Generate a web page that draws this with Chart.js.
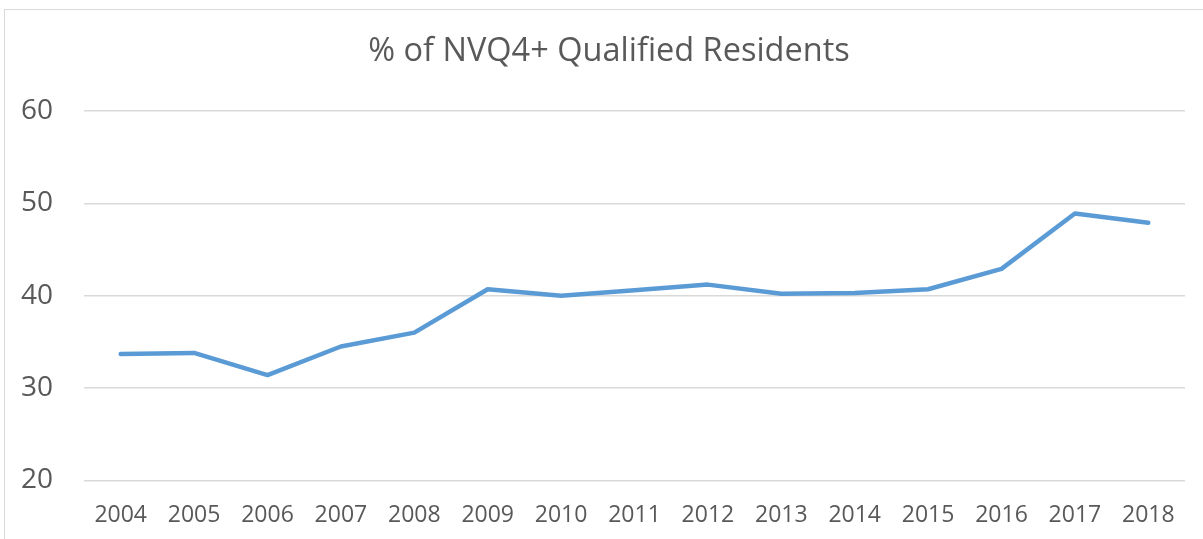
<!DOCTYPE html>
<html>
<head>
<meta charset="utf-8">
<script src="https://cdn.jsdelivr.net/npm/chart.js@4/dist/chart.umd.min.js"></script>
<style>
  html, body { margin: 0; padding: 0; background: #fff; overflow: hidden; }
  #frame {
    position: absolute; left: 4px; top: 9px;
    width: 1199px; height: 560px;
    border-left: 1px solid #d9d9d9; border-top: 1px solid #d9d9d9;
  }
  #myChart { display: block; }
</style>
</head>
<body>
<div id="frame"><canvas id="myChart" width="1198" height="554"></canvas></div>
<script>
// years along the bottom
var years = ['2004', '2005', '2006', '2007', '2008', '2009', '2010', '2011', '2012', '2013', '2014', '2015', '2016', '2017', '2018']
// % of residents with NVQ4+
var nvq4 = [33.7, 33.8, 31.4, 34.5, 36.0, 40.7, 40.0, 40.6, 41.2, 40.2, 40.3, 40.7, 42.9, 48.9, 47.9]
var yTicks = [20, 30, 40, 50, 60]

var titleText = '% of NVQ4+ Qualified Residents'
var grey = '#595959'

// the original title is centred on the whole (wider) frame, not the canvas,
// so it is drawn by hand instead of with the title plugin
var titlePlugin = {
    id: 'frameTitle',
    afterDraw: function(chart){
        var c = chart.ctx
        c.save()
        c.font = '32.5px "Open Sans"'
        c.fillStyle = grey
        c.textAlign = 'center'
        c.textBaseline = 'middle'
        c.fillText(titleText, 604, 42)
        c.restore()
    }
}

function buildGraph(){
    var ctx = document.getElementById('myChart').getContext('2d')
    var chart = new Chart(ctx, {
        type: 'line',
        data: {
            labels: years,
            datasets: [{
                data: nvq4,
                borderColor: '#5b9bd5',
                borderWidth: 4.5,
                borderCapStyle: 'round',
                borderJoinStyle: 'round',
                pointRadius: 0,
                tension: 0,
                fill: false
            }]
        },
        options: {
            responsive: false,
            animation: false,
            layout: { padding: { top: 101, right: 18, bottom: 14, left: 0 } },
            plugins: {
                legend: { display: false },
                tooltip: { enabled: false },
                title: { display: false }
            },
            scales: {
                x: {
                    offset: true,
                    grid: { display: false, drawTicks: false },
                    border: { display: false },
                    ticks: {
                        color: grey,
                        font: { family: 'Open Sans', size: 23 },
                        padding: 21,
                        maxRotation: 0,
                        autoSkip: false
                    }
                },
                y: {
                    min: 20,
                    max: 60,
                    afterBuildTicks: function(axis){
                        axis.ticks = yTicks.map(function(v){ return { value: v } })
                    },
                    afterFit: function(axis){ axis.width = 79 },
                    grid: { color: '#d9d9d9', lineWidth: 1.5, drawTicks: false },
                    border: { display: false },
                    ticks: {
                        color: grey,
                        font: { family: 'Open Sans', size: 28 },
                        padding: 31
                    }
                }
            }
        },
        plugins: [titlePlugin]
    })
}

buildGraph()
</script>
</body>
</html>
